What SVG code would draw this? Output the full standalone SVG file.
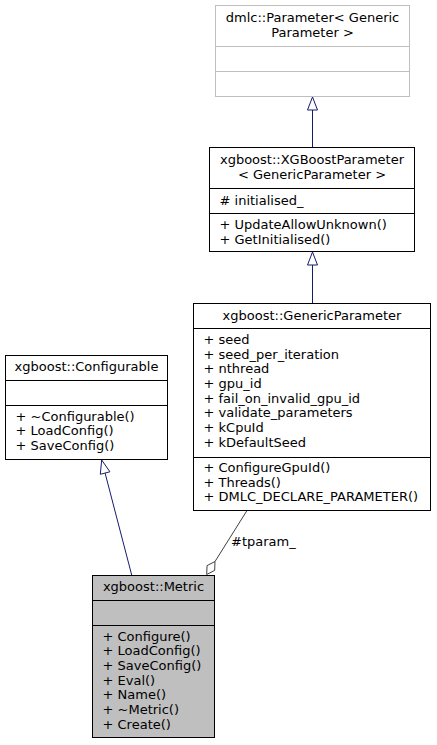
<svg xmlns="http://www.w3.org/2000/svg" width="437" height="745" viewBox="0 0 437 745">
<style>
  .box { fill: #ffffff; stroke: #000000; stroke-width: 1; }
  .ghost { fill: #ffffff; stroke: #bfbfbf; stroke-width: 1; }
  .cur { fill: #bfbfbf; stroke: #000000; stroke-width: 1; }
  .div { stroke: #000000; stroke-width: 1; }
  .gdiv { stroke: #bfbfbf; stroke-width: 1; }
  text { font-family: "DejaVu Sans", "Noto Sans", sans-serif; font-size: 13px; fill: #000000; }
  .c { text-anchor: middle; }
  .inh { stroke: #191970; stroke-width: 1; fill: none; }
  .inhhead { stroke: #191970; stroke-width: 1; fill: #ffffff; }
  .use { stroke: #404040; stroke-width: 1; fill: none; }
  .usehead { stroke: #404040; stroke-width: 1; fill: #ffffff; }
</style>

<g id="connectors">
  <!-- XGBoostParameter -> dmlc::Parameter -->
  <line class="inh" x1="312.5" y1="147" x2="312.5" y2="110"/>
  <polygon class="inhhead" points="312.5,97 307.5,110 317.5,110"/>
  <!-- GenericParameter -> XGBoostParameter -->
  <line class="inh" x1="312.5" y1="303" x2="312.5" y2="265"/>
  <polygon class="inhhead" points="312.5,252 307.5,265 317.5,265"/>
  <!-- Metric -> Configurable -->
  <line class="inh" x1="131.7" y1="575" x2="105.1" y2="473.1"/>
  <polygon class="inhhead" points="101.7,460 109.9,471.8 100.3,474.3"/>
  <!-- GenericParameter o- Metric -->
  <line class="use" x1="246.7" y1="511" x2="215" y2="561.5"/>
  <polygon class="usehead" points="215,561.5 214.65,570.4 206.7,574.5 207.05,565.6"/>
  <text x="231" y="546">#tparam_</text>
</g>

<g id="dmlc_Parameter">
  <rect class="ghost" x="215.5" y="5.5" width="194" height="91"/>
  <line class="gdiv" x1="215.5" y1="46.5" x2="409.5" y2="46.5"/>
  <line class="gdiv" x1="215.5" y1="71.5" x2="409.5" y2="71.5"/>
  <text class="c" x="312.5" y="22">dmlc::Parameter&lt; Generic</text>
  <text class="c" x="312.5" y="36.7">Parameter &gt;</text>
</g>

<g id="XGBoostParameter">
  <rect class="box" x="209.5" y="147.5" width="205" height="104"/>
  <line class="div" x1="209.5" y1="188.5" x2="414.5" y2="188.5"/>
  <line class="div" x1="209.5" y1="213.5" x2="414.5" y2="213.5"/>
  <text class="c" x="312" y="164">xgboost::XGBoostParameter</text>
  <text class="c" x="312" y="178.7">&lt; GenericParameter &gt;</text>
  <text x="219.5" y="204.5"># initialised_</text>
  <text x="219.5" y="229">+ UpdateAllowUnknown()</text>
  <text x="219.5" y="243.7">+ GetInitialised()</text>
</g>

<g id="GenericParameter">
  <rect class="box" x="193.5" y="303.5" width="237" height="207"/>
  <line class="div" x1="193.5" y1="328.5" x2="430.5" y2="328.5"/>
  <line class="div" x1="193.5" y1="457.5" x2="430.5" y2="457.5"/>
  <text class="c" x="312" y="319.5">xgboost::GenericParameter</text>
  <text x="203.5" y="344">+ seed</text>
  <text x="203.5" y="358.7">+ seed_per_iteration</text>
  <text x="203.5" y="373.3">+ nthread</text>
  <text x="203.5" y="388">+ gpu_id</text>
  <text x="203.5" y="402.7">+ fail_on_invalid_gpu_id</text>
  <text x="203.5" y="417.3">+ validate_parameters</text>
  <text x="203.5" y="432">+ kCpuId</text>
  <text x="203.5" y="446.7">+ kDefaultSeed</text>
  <text x="203.5" y="472">+ ConfigureGpuId()</text>
  <text x="203.5" y="486.7">+ Threads()</text>
  <text x="203.5" y="501.3">+ DMLC_DECLARE_PARAMETER()</text>
</g>

<g id="Configurable">
  <rect class="box" x="5.5" y="355.5" width="162" height="104"/>
  <line class="div" x1="5.5" y1="380.5" x2="167.5" y2="380.5"/>
  <line class="div" x1="5.5" y1="405.5" x2="167.5" y2="405.5"/>
  <text class="c" x="86.5" y="370.5">xgboost::Configurable</text>
  <text x="15.5" y="420.5">+ ~Configurable()</text>
  <text x="15.5" y="435.2">+ LoadConfig()</text>
  <text x="15.5" y="449.8">+ SaveConfig()</text>
</g>

<g id="Metric">
  <rect class="cur" x="92.5" y="575.5" width="122" height="162"/>
  <line class="div" x1="92.5" y1="600.5" x2="214.5" y2="600.5"/>
  <line class="div" x1="92.5" y1="625.5" x2="214.5" y2="625.5"/>
  <text class="c" x="153.5" y="590.5">xgboost::Metric</text>
  <text x="102.5" y="640.5">+ Configure()</text>
  <text x="102.5" y="655.2">+ LoadConfig()</text>
  <text x="102.5" y="669.8">+ SaveConfig()</text>
  <text x="102.5" y="684.5">+ Eval()</text>
  <text x="102.5" y="699.2">+ Name()</text>
  <text x="102.5" y="713.8">+ ~Metric()</text>
  <text x="102.5" y="728.5">+ Create()</text>
</g>
</svg>
